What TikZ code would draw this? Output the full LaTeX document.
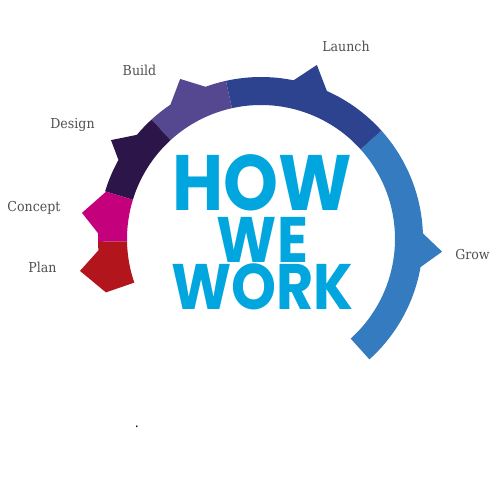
\documentclass[tikz,border=0pt]{standalone}
\usepackage{fontspec}
\setmainfont{DejaVu Serif}
\newfontfamily\howfont{Poppins}
\usepackage{xcolor}
\definecolor{planred}{HTML}{B3151C}
\definecolor{conceptpink}{HTML}{C5007D}
\definecolor{designpurple}{HTML}{2C1649}
\definecolor{buildpurple}{HTML}{554890}
\definecolor{launchblue}{HTML}{2E4390}
\definecolor{growblue}{HTML}{357BBF}
\definecolor{howcyan}{HTML}{00A6DD}
\definecolor{labelgrey}{HTML}{505050}

\begin{document}
\begin{tikzpicture}[scale=0.02,
  stagename/.style={anchor=base, inner sep=0pt, xscale=0.92, text=labelgrey, font=\fontsize{7.8}{9}\selectfont},
  bigword/.style={inner sep=0pt, xscale=0.89, align=center, text=howcyan,
    font=\howfont\bfseries\fontsize{36.6}{27.2}\selectfont}]
  \useasboundingbox (-261,-241) rectangle (241,239);
  % ring, one piece per stage
  \fill[growblue] (-48:134) -- (-48:162) arc[start angle=-48, end angle=-10, radius=162]
    -- (-4:181.5) -- (2:162) arc[start angle=2, end angle=42, radius=162]
    -- (42:134) arc[start angle=42, end angle=-48, radius=134] -- cycle;
  \fill[launchblue] (42:134) -- (42:162) arc[start angle=42, end angle=66, radius=162]
    -- (72.2:182.8) -- (78.4:162) arc[start angle=78.4, end angle=102.5, radius=162]
    -- (102.5:134) arc[start angle=102.5, end angle=42, radius=134] -- cycle;
  \fill[buildpurple] (102.5:134) -- (102.5:162) arc[start angle=102.5, end angle=110, radius=162]
    -- (116.8:179.3) -- (124:162) arc[start angle=124, end angle=132.5, radius=162]
    -- (132.5:134) arc[start angle=132.5, end angle=102.5, radius=134] -- cycle;
  \fill[designpurple] (132.5:134) -- (132.5:162) arc[start angle=132.5, end angle=140, radius=162]
    -- (146.6:179.7) -- (151:163) arc[start angle=151, end angle=163, radius=163]
    -- (163:134) arc[start angle=163, end angle=132.5, radius=134] -- cycle;
  \fill[conceptpink] (163:134) -- (163:162)
    -- (171.7:180.9) -- (178:163) arc[start angle=178, end angle=181, radius=163]
    -- (181:134) arc[start angle=181, end angle=163, radius=134] -- cycle;
  \fill[planred] (181:134) -- (181:163) arc[start angle=181, end angle=184, radius=163]
    -- (190:183.8) -- (199:164)
    -- (199:134) arc[start angle=199, end angle=181, radius=134] -- cycle;
  % centre words
  \node[bigword, anchor=base] (howwework) at (1.5,-71)
    {{\fontsize{44.7}{27.2}\selectfont HOW}\\[2.3pt]WE\\WORK};
  % stage names
  \node[stagename] (launch) at (85,187) {Launch};
  \node[stagename] (build) at (-121.5,163) {Build};
  \node[stagename] (design) at (-188.5,110) {Design};
  \node[stagename] (concept) at (-227,27) {Concept};
  \node[stagename] (plan) at (-218.5,-34) {Plan};
  \node[stagename] (grow) at (211.5,-21) {Grow};
  \node[stagename, text=black] (dot) at (-124,-189) {.};
\end{tikzpicture}
\end{document}
